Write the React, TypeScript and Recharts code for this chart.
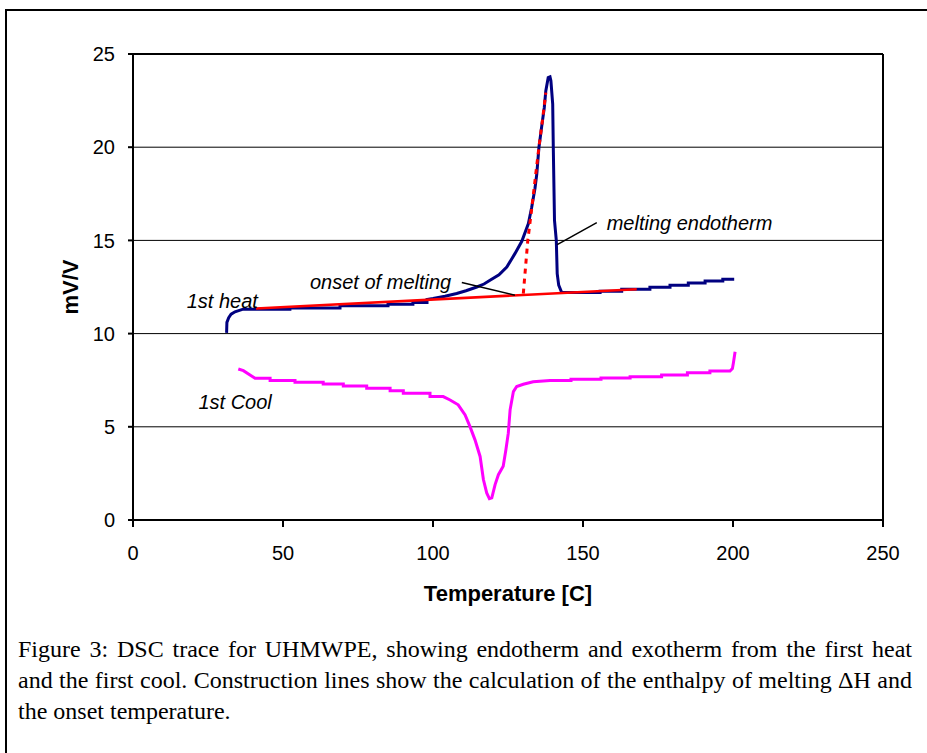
import React from 'react';
import {
  LineChart,
  Line,
  XAxis,
  YAxis,
  CartesianGrid,
  ReferenceLine,
  ReferenceDot,
  Label,
} from 'recharts';

const SANS = '"Liberation Sans", Arial, Helvetica, sans-serif';
const SERIF = '"Liberation Serif", "Times New Roman", Times, serif';

// Axis ticks
const TEMP_TICKS = [0, 50, 100, 150, 200, 250];
const SIGNAL_TICKS = [0, 5, 10, 15, 20, 25];

// 1st heat trace (temperature °C, mV/V)
const heatT = [
  31.2, 31.3, 31.9, 32.7, 34, 36.7, 52.3, 52.3, 69, 69, 85, 85, 93.3, 93.3, 98, 98,
  100, 104, 107.9, 111, 114.6, 117, 119, 122, 124.6, 127.3, 129.6, 131.8, 132.9, 134,
  134.6, 135.3, 136.3, 137.1, 137.6, 138.4, 139, 139.3, 139.9, 140.1, 140.5, 141.1,
  141.4, 141.9, 142.9, 155.7, 155.7, 162.9, 162.9, 172.3, 172.3, 179, 179, 185.1,
  185.1, 190.7, 190.7, 196.6, 196.6, 200.4,
];
const heatV = [
  10.04, 10.6, 10.85, 11.04, 11.17, 11.31, 11.31, 11.38, 11.38, 11.49, 11.49, 11.58,
  11.58, 11.67, 11.67, 11.83, 11.88, 12.0, 12.15, 12.3, 12.5, 12.66, 12.86, 13.15,
  13.57, 14.29, 14.95, 15.9, 16.78, 17.8, 18.57, 19.97, 21.2, 22.13, 23.02, 23.73,
  23.77, 23.56, 22.31, 19.97, 16.07, 15.0, 13.22, 12.6, 12.2, 12.2, 12.27, 12.27,
  12.38, 12.38, 12.49, 12.49, 12.59, 12.59, 12.72, 12.72, 12.82, 12.82, 12.91, 12.91,
];

// 1st cool trace
const coolT = [
  35.1, 36.8, 39, 40.7, 45.7, 45.7, 54, 54, 63.4, 63.4, 70.1, 70.1, 77.9, 77.9, 85.7,
  85.7, 90.1, 90.1, 99, 99, 103.4, 105.7, 108.4, 110.7, 112.3, 114, 115.7, 116.8,
  117.9, 118.8, 119.6, 120.7, 121.8, 123.4, 124.3, 125.1, 125.7, 126.8, 127.9, 130.1,
  133.4, 139, 146, 146, 156, 156, 165.7, 165.7, 176.2, 176.2, 184.8, 184.8, 192.3,
  192.3, 199, 199.8, 200.1, 200.7,
];
const coolV = [
  8.1, 8.01, 7.78, 7.6, 7.6, 7.48, 7.48, 7.39, 7.39, 7.3, 7.3, 7.19, 7.19, 7.07, 7.07,
  6.93, 6.93, 6.8, 6.8, 6.62, 6.62, 6.44, 6.18, 5.64, 5.02, 4.3, 3.41, 2.17, 1.45,
  1.15, 1.19, 1.9, 2.43, 2.88, 3.77, 4.66, 5.91, 6.89, 7.16, 7.28, 7.42, 7.48, 7.48,
  7.55, 7.55, 7.62, 7.62, 7.69, 7.69, 7.78, 7.78, 7.9, 7.9, 7.99, 7.99, 8.12, 8.4,
  9.03, 10.28,
];

// Construction line: baseline under the melting peak
const baselineT = [41, 167.9];
const baselineV = [11.35, 12.38];

// Construction line: tangent on leading edge (dashed)
const tangentT = [130.1, 131.6, 132.7, 134, 135.3, 136.6, 137.6];
const tangentV = [12.15, 15.0, 16.43, 18.21, 19.99, 21.59, 22.93];

// Annotation text anchors (temperature, mV/V at left / mid-height of text)
const annotationText = ['onset of melting', '1st heat', 'melting endotherm', '1st Cool'];
const annotationT = [59, 17.9, 157.9, 21.8];
const annotationV = [12.76, 11.73, 15.92, 6.35];

// Leader lines
const onsetLeaderT = [109.6, 127.3];
const onsetLeaderV = [12.74, 12.06];
const endoLeaderT = [154.6, 141.4];
const endoLeaderV = [15.95, 14.77];

const zip = (ts: number[], vs: number[]) => ts.map((t, i) => ({ t, v: vs[i] }));

const heatData = zip(heatT, heatV);
const coolData = zip(coolT, coolV);
const baselineData = zip(baselineT, baselineV);
const tangentData = zip(tangentT, tangentV);

const captionLines = [
  'Figure 3: DSC trace for UHMWPE, showing endotherm and exotherm from the first heat',
  'and the first cool. Construction lines show the calculation of the enthalpy of melting \u0394H and',
  'the onset temperature.',
];

export default function App() {
  return (
    <div
      style={{
        position: 'absolute',
        left: 0,
        top: 0,
        width: 927,
        height: 753,
        overflow: 'hidden',
        background: '#fff',
      }}
    >
      <div
        style={{
          position: 'absolute',
          left: 5,
          top: 9,
          right: -10,
          bottom: -10,
          borderTop: '2px solid #000',
          borderLeft: '2px solid #000',
        }}
      />
      <div style={{ position: 'absolute', left: 0, top: 0 }}>
        <LineChart
          width={927}
          height={620}
          margin={{ top: 54, right: 44, left: 7, bottom: 19 }}
          style={{ fontFamily: SANS }}
        >
          <CartesianGrid vertical={false} stroke="#000" strokeWidth={1} />
          <XAxis
            dataKey="t"
            type="number"
            domain={[0, 250]}
            ticks={TEMP_TICKS}
            allowDataOverflow
            height={81}
            tickSize={7}
            tickMargin={19}
            axisLine={{ stroke: '#000', strokeWidth: 2 }}
            tickLine={{ stroke: '#000', strokeWidth: 2 }}
            tick={{ fill: '#000', fontSize: 20, fontFamily: SANS }}
          >
            <Label
              value="Temperature [C]"
              position="insideBottom"
              offset={0}
              fill="#000"
              fontSize={22}
              fontWeight="bold"
              fontFamily={SANS}
            />
          </XAxis>
          <YAxis
            type="number"
            domain={[0, 25]}
            ticks={SIGNAL_TICKS}
            allowDataOverflow
            width={126}
            tickSize={5}
            tickMargin={13}
            axisLine={{ stroke: '#000', strokeWidth: 2 }}
            tickLine={{ stroke: '#000', strokeWidth: 2 }}
            tick={{ fill: '#000', fontSize: 20, fontFamily: SANS }}
          >
            <Label
              value="mV/V"
              angle={-90}
              position="center"
              fill="#000"
              fontSize={22}
              fontWeight="bold"
              fontFamily={SANS}
            />
          </YAxis>
          <ReferenceLine y={25} stroke="#000" strokeWidth={2} />
          <ReferenceLine x={250} stroke="#000" strokeWidth={2} />

          <Line
            data={coolData}
            dataKey="v"
            type="linear"
            stroke="#FF00FF"
            strokeWidth={3}
            dot={false}
            activeDot={false}
            isAnimationActive={false}
          />
          <Line
            data={heatData}
            dataKey="v"
            type="linear"
            stroke="#000080"
            strokeWidth={3}
            dot={false}
            activeDot={false}
            isAnimationActive={false}
          />
          <Line
            data={baselineData}
            dataKey="v"
            type="linear"
            stroke="#FF0000"
            strokeWidth={2.5}
            dot={false}
            activeDot={false}
            isAnimationActive={false}
          />
          <Line
            data={tangentData}
            dataKey="v"
            type="linear"
            stroke="#FF0000"
            strokeWidth={3}
            strokeDasharray="5 5"
            dot={false}
            activeDot={false}
            isAnimationActive={false}
          />

          <ReferenceLine
            segment={[
              { x: onsetLeaderT[0], y: onsetLeaderV[0] },
              { x: onsetLeaderT[1], y: onsetLeaderV[1] },
            ]}
            stroke="#000"
            strokeWidth={1.5}
          />
          <ReferenceLine
            segment={[
              { x: endoLeaderT[0], y: endoLeaderV[0] },
              { x: endoLeaderT[1], y: endoLeaderV[1] },
            ]}
            stroke="#000"
            strokeWidth={1.5}
          />

          {annotationText.map((txt, i) => (
            <ReferenceDot
              key={txt}
              x={annotationT[i]}
              y={annotationV[i]}
              r={0}
              fill="none"
              stroke="none"
              label={{
                value: txt,
                position: 'right',
                offset: 0,
                fill: '#000',
                fontSize: 20,
                fontStyle: 'italic',
                fontFamily: SANS,
              }}
            />
          ))}
        </LineChart>
      </div>
      <div
        style={{
          position: 'absolute',
          left: 18,
          top: 634,
          width: 894,
          fontFamily: SERIF,
          fontSize: 24,
          lineHeight: '31px',
          color: '#000',
        }}
      >
        {captionLines.map((line, i) => (
          <div
            key={i}
            style={{
              textAlign: i < 2 ? 'justify' : 'left',
              textAlignLast: i < 2 ? 'justify' : 'left',
              whiteSpace: 'nowrap',
            }}
          >
            {line}
          </div>
        ))}
      </div>
    </div>
  );
}
